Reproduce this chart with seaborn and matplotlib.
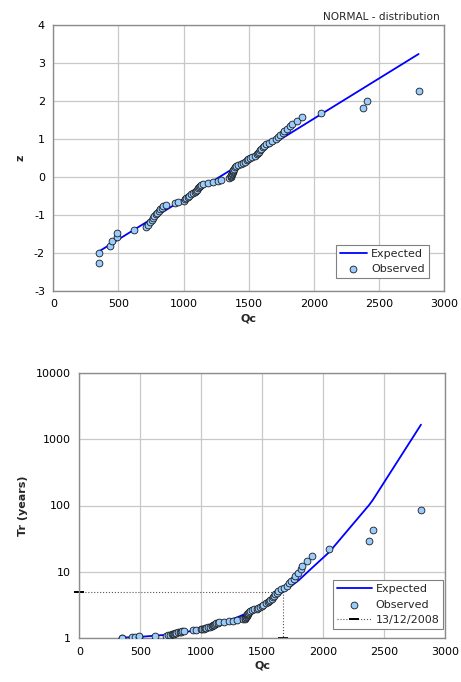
import matplotlib
matplotlib.use("Agg")
import matplotlib.pyplot as plt
import seaborn as sns
import pandas as pd
from matplotlib.ticker import MultipleLocator, FixedLocator, LogLocator, FuncFormatter, NullFormatter

# ---------------- data ----------------
qc_obs = [348, 352, 435, 453, 490, 492, 619, 712, 728, 740,
          758, 768, 775, 785, 795, 808, 822, 835, 845, 862,
          930, 955, 1000, 1010, 1020, 1030, 1040, 1055, 1070, 1085,
          1092, 1100, 1108, 1115, 1125, 1135, 1150, 1190, 1225, 1262,
          1290, 1345, 1360, 1362, 1365, 1368, 1372, 1375, 1378, 1382,
          1388, 1395, 1402, 1415, 1437, 1455, 1470, 1485, 1495, 1509,
          1528, 1545, 1560, 1568, 1577, 1585, 1595, 1608, 1620, 1632,
          1655, 1680, 1705, 1722, 1740, 1760, 1770, 1790, 1815, 1830,
          1868, 1905, 2051, 2378, 2409, 2803]
z_obs = [-2.273, -1.996, -1.819, -1.685, -1.576, -1.483, -1.401, -1.328, -1.262, -1.201,
         -1.144, -1.090, -1.039, -0.991, -0.944, -0.900, -0.858, -0.817, -0.778, -0.739,
         -0.702, -0.666, -0.630, -0.595, -0.561, -0.528, -0.495, -0.462, -0.431, -0.400,
         -0.368, -0.338, -0.307, -0.277, -0.247, -0.218, -0.188, -0.159, -0.130, -0.101,
         -0.072, -0.043, -0.014, 0.014, 0.043, 0.072, 0.101, 0.130, 0.159, 0.188,
         0.218, 0.247, 0.277, 0.307, 0.338, 0.368, 0.400, 0.431, 0.462, 0.495,
         0.528, 0.561, 0.595, 0.630, 0.666, 0.702, 0.739, 0.778, 0.817, 0.858,
         0.900, 0.944, 0.991, 1.039, 1.090, 1.144, 1.201, 1.262, 1.328, 1.401,
         1.483, 1.576, 1.685, 1.819, 1.996, 2.273]
tr_obs = [1.012, 1.024, 1.036, 1.048, 1.061, 1.074, 1.088, 1.101, 1.115, 1.130,
          1.145, 1.160, 1.176, 1.192, 1.208, 1.225, 1.243, 1.261, 1.279, 1.299,
          1.318, 1.338, 1.359, 1.381, 1.403, 1.426, 1.450, 1.475, 1.500, 1.526,
          1.554, 1.582, 1.611, 1.642, 1.673, 1.706, 1.740, 1.776, 1.813, 1.851,
          1.891, 1.933, 1.977, 2.023, 2.071, 2.122, 2.175, 2.231, 2.289, 2.351,
          2.417, 2.486, 2.559, 2.636, 2.719, 2.806, 2.900, 3.000, 3.107, 3.222,
          3.346, 3.480, 3.625, 3.783, 3.955, 4.143, 4.350, 4.579, 4.833, 5.118,
          5.438, 5.800, 6.214, 6.692, 7.250, 7.909, 8.700, 9.667, 10.875, 12.43,
          14.5, 17.4, 21.75, 29.0, 43.5, 87.0]

qc_exp = [355, 500, 700, 900, 1100, 1300, 1400, 1500, 1600, 1700, 1800, 1905, 2051, 2378, 2409, 2803]
z_exp = [-1.955, -1.648, -1.224, -0.800, -0.375, 0.049, 0.261, 0.473, 0.685, 0.897,
         1.109, 1.332, 1.642, 2.335, 2.401, 3.236]
tr_exp = [1.026, 1.052, 1.124, 1.269, 1.548, 2.081, 2.519, 3.144, 4.054, 5.41,
          7.48, 11.3, 19.9, 102.0, 122.0, 1650.0]

event_label = "13/12/2008"
event_qc = [0, 1670, 1670]
event_tr = [5, 5, 1]

x_ticks = [0, 500, 1000, 1500, 2000, 2500, 3000]
z_ticks = [-3, -2, -1, 0, 1, 2, 3, 4]
tr_ticks = [1, 10, 100, 1000, 10000]

# ---------------- style ----------------
sns.set_style("white")
plt.rcParams['font.family'] = ['DejaVu Sans']
plt.rcParams['axes.unicode_minus'] = False

W, H = 461, 682
fig = plt.figure(figsize=(W / 100, H / 100), dpi=100)

frame_col = '#8c8c8c'
grid_col = '#c8c8c8'
mk_face = '#99ccff'
mk_edge = '#1a1a1a'
line_col = '#0000ff'
fs = 8

df_obs = pd.DataFrame({'Qc': qc_obs, 'z': z_obs, 'Tr': tr_obs})
df_exp = pd.DataFrame({'Qc': qc_exp, 'z': z_exp, 'Tr': tr_exp})


def style_axes(ax):
    for s in ax.spines.values():
        s.set_color(frame_col)
        s.set_linewidth(1.0)
    ax.grid(True, which='major', color=grid_col, linewidth=0.9)
    ax.set_axisbelow(True)
    ax.tick_params(which='major', direction='out', length=4, width=0.8, color='#555555',
                   labelsize=fs, pad=2, colors='#555555', labelcolor='black')
    ax.tick_params(which='minor', direction='out', length=2.5, width=0.6, color='#555555')


# ---------------- top: normal plot ----------------
ax1 = fig.add_axes([53.3 / W, 1 - 290.7 / H, (444.3 - 53.3) / W, (290.7 - 25) / H])
sns.lineplot(data=df_exp, x='Qc', y='z', ax=ax1, color=line_col, linewidth=1.3,
             label='Expected', sort=False, zorder=2)
sns.scatterplot(data=df_obs, x='Qc', y='z', ax=ax1, color=mk_face, edgecolor=mk_edge,
                linewidth=0.6, s=24, label='Observed', zorder=3)
ax1.set_xlim(0, 3000)
ax1.set_ylim(-3, 4)
ax1.xaxis.set_major_locator(FixedLocator(x_ticks))
ax1.yaxis.set_major_locator(FixedLocator(z_ticks))
ax1.xaxis.set_minor_locator(MultipleLocator(100))
ax1.yaxis.set_minor_locator(MultipleLocator(0.2))
style_axes(ax1)
ax1.set_xlabel('Qc', fontsize=fs, fontweight='bold', labelpad=3)
ax1.set_ylabel('z', fontsize=fs, fontweight='bold', labelpad=6)
ax1.text(1.0 - 5 / 391, 1.0 + 3 / 265.7, 'NORMAL - distribution', transform=ax1.transAxes,
         ha='right', va='bottom', fontsize=7.6)
leg1 = ax1.legend(loc='lower right', bbox_to_anchor=(0.96, 0.048), fontsize=fs,
                  frameon=True, fancybox=False, edgecolor='#808080', framealpha=1,
                  borderpad=0.35, handlelength=2.4, handletextpad=0.4, labelspacing=0.5,
                  borderaxespad=0)
leg1.get_frame().set_linewidth(0.8)

# ---------------- bottom: return period ----------------
ax2 = fig.add_axes([79.3 / W, 1 - 638.3 / H, (445 - 79.3) / W, (638.3 - 372.7) / H])
ax2.set_yscale('log')
sns.lineplot(data=df_exp, x='Qc', y='Tr', ax=ax2, color=line_col, linewidth=1.3,
             label='Expected', sort=False, zorder=2)
sns.scatterplot(data=df_obs, x='Qc', y='Tr', ax=ax2, color=mk_face, edgecolor=mk_edge,
                linewidth=0.6, s=24, label='Observed', zorder=3)
ax2.plot(event_qc, event_tr, linestyle=':', color='#555555', linewidth=0.8,
         marker='_', markevery=[0, 2], markersize=7, markeredgewidth=1.4,
         markeredgecolor='black', label=event_label, zorder=2.5, clip_on=False)
ax2.set_xlim(0, 3000)
ax2.set_ylim(1, 10000)
ax2.xaxis.set_major_locator(FixedLocator(x_ticks))
ax2.xaxis.set_minor_locator(MultipleLocator(100))
ax2.yaxis.set_major_locator(FixedLocator(tr_ticks))
ax2.yaxis.set_minor_locator(LogLocator(base=10, subs=range(2, 10)))
ax2.yaxis.set_major_formatter(FuncFormatter(lambda v, p: f'{int(round(v))}'))
ax2.yaxis.set_minor_formatter(NullFormatter())
style_axes(ax2)
ax2.set_xlabel('Qc', fontsize=fs, fontweight='bold', labelpad=3)
ax2.set_ylabel('Tr (years)', fontsize=fs, fontweight='bold', labelpad=6)
leg2 = ax2.legend(loc='lower right', bbox_to_anchor=(0.995, 0.035), fontsize=fs,
                  frameon=True, fancybox=False, edgecolor='#808080', framealpha=1,
                  borderpad=0.35, handlelength=3.2, handletextpad=0.3, labelspacing=0.5,
                  borderaxespad=0)
leg2.get_frame().set_linewidth(0.8)

fig.savefig('out.png', dpi=100, facecolor='white')
